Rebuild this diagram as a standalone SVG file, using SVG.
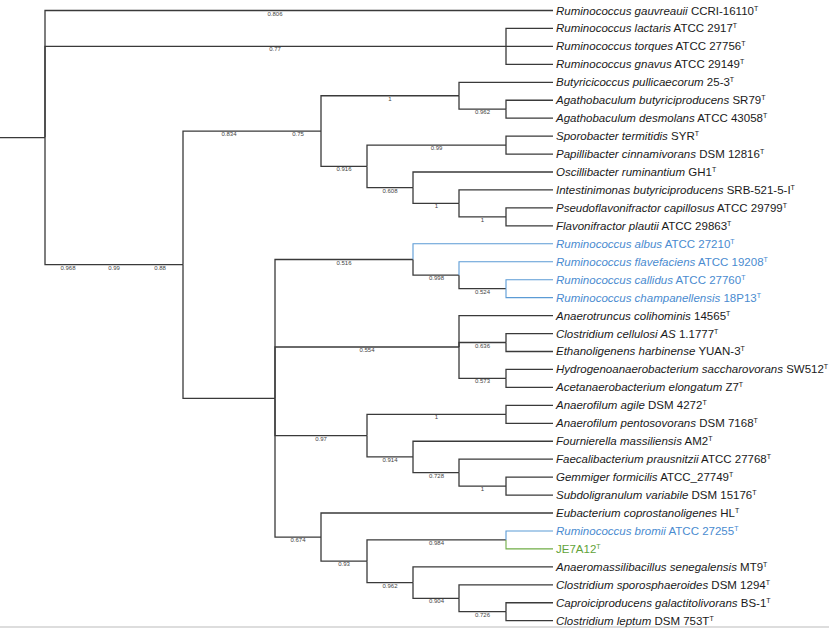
<svg xmlns="http://www.w3.org/2000/svg" width="829" height="628" viewBox="0 0 829 628">
<style>
.br{fill:none;stroke:#3a3a3a;stroke-width:1.3}
.bl{fill:none;stroke:#5b9bd5;stroke-width:1.1}
.gr{fill:none;stroke:#70ad47;stroke-width:1.1}
.sup{font-family:"Liberation Sans",Arial,sans-serif;font-size:6px;fill:#444;text-anchor:middle}
.lf{font-family:"Liberation Sans",Arial,sans-serif;font-size:11.5px;fill:#1a1a1a}
.lf.blue{fill:#4a8bd0}
.lf.green{fill:#62a33a}
.i{font-style:italic}
.t{font-size:7px}
</style>
<rect x="0" y="0" width="829" height="628" fill="#ffffff"/>
<line x1="0" y1="627" x2="829" y2="627" stroke="#dddddd" stroke-width="2"/>
<g id="connectors">
<path class="br" d="M0,137.6H45"/>
<path class="br" d="M45,137.6V10.5H553"/>
<path class="br" d="M45,137.6V46.4H506"/>
<path class="br" d="M45,137.6V264.7H183"/>
<path class="br" d="M506,46.4V28.45H553"/>
<path class="br" d="M506,46.4H553"/>
<path class="br" d="M506,46.4V64.34H553"/>
<path class="br" d="M183,264.7V131.1H321"/>
<path class="br" d="M183,264.7V398.3H275"/>
<path class="br" d="M321,131.1V95.75H459"/>
<path class="br" d="M321,131.1V166.4H367"/>
<path class="br" d="M459,95.75V82.29H553"/>
<path class="br" d="M459,95.75V109.2H506"/>
<path class="br" d="M506,109.2V100.24H553"/>
<path class="br" d="M506,109.2V118.18H553"/>
<path class="br" d="M367,166.4V145.1H506"/>
<path class="br" d="M367,166.4V187.7H413"/>
<path class="br" d="M506,145.1V136.13H553"/>
<path class="br" d="M506,145.1V154.08H553"/>
<path class="br" d="M413,187.7V172.02H553"/>
<path class="br" d="M413,187.7V203.4H459"/>
<path class="br" d="M459,203.4V189.97H553"/>
<path class="br" d="M459,203.4V216.9H506"/>
<path class="br" d="M506,216.9V207.92H553"/>
<path class="br" d="M506,216.9V225.86H553"/>
<path class="br" d="M275,398.3V259.5H413"/>
<path class="br" d="M275,398.3V347H459"/>
<path class="br" d="M275,398.3V435.6H367"/>
<path class="br" d="M275,398.3V537.1H321"/>
<path class="bl" d="M413,259.5V243.81H553"/>
<path class="br" d="M413,259.5V275.2H459"/>
<path class="bl" d="M459,275.2V261.76H553"/>
<path class="br" d="M459,275.2V288.68H506"/>
<path class="bl" d="M506,288.68V279.71H553"/>
<path class="bl" d="M506,288.68V297.65H553"/>
<path class="br" d="M459,347V315.6H553"/>
<path class="br" d="M459,347V342.5H506"/>
<path class="br" d="M459,347V378.4H506"/>
<path class="br" d="M506,342.5V333.55H553"/>
<path class="br" d="M506,342.5V351.49H553"/>
<path class="br" d="M506,378.4V369.44H553"/>
<path class="br" d="M506,378.4V387.39H553"/>
<path class="br" d="M367,435.6V414.3H506"/>
<path class="br" d="M367,435.6V456.9H413"/>
<path class="br" d="M506,414.3V405.33H553"/>
<path class="br" d="M506,414.3V423.28H553"/>
<path class="br" d="M413,456.9V441.23H553"/>
<path class="br" d="M413,456.9V472.6H459"/>
<path class="br" d="M459,472.6V459.18H553"/>
<path class="br" d="M459,472.6V486.1H506"/>
<path class="br" d="M506,486.1V477.12H553"/>
<path class="br" d="M506,486.1V495.07H553"/>
<path class="br" d="M321,537.1V513.02H553"/>
<path class="br" d="M321,537.1V561.2H367"/>
<path class="br" d="M367,561.2V539.9H506"/>
<path class="br" d="M367,561.2V582.6H413"/>
<path class="bl" d="M506,539.9V530.96H553"/>
<path class="gr" d="M506,539.9V548.91H553"/>
<path class="br" d="M413,582.6V566.86H553"/>
<path class="br" d="M413,582.6V598.3H459"/>
<path class="br" d="M459,598.3V584.8H553"/>
<path class="br" d="M459,598.3V611.7H506"/>
<path class="br" d="M506,611.7V602.75H553"/>
<path class="br" d="M506,611.7V620.7H553"/>
</g>
<g id="support-values">
<text class="sup" x="275" y="15.5">0.806</text>
<text class="sup" x="275" y="51.4">0.77</text>
<text class="sup" x="68" y="269.7">0.968</text>
<text class="sup" x="114" y="269.7">0.99</text>
<text class="sup" x="160" y="269.7">0.88</text>
<text class="sup" x="229" y="136.1">0.834</text>
<text class="sup" x="298" y="136.1">0.75</text>
<text class="sup" x="390" y="100.75">1</text>
<text class="sup" x="482.5" y="114.2">0.962</text>
<text class="sup" x="436.5" y="150.1">0.99</text>
<text class="sup" x="344" y="171.4">0.916</text>
<text class="sup" x="390" y="192.7">0.608</text>
<text class="sup" x="436.5" y="208.4">1</text>
<text class="sup" x="482.5" y="221.9">1</text>
<text class="sup" x="344" y="264.5">0.516</text>
<text class="sup" x="436.5" y="280.2">0.998</text>
<text class="sup" x="482.5" y="293.7">0.524</text>
<text class="sup" x="367" y="352">0.554</text>
<text class="sup" x="482.5" y="347.5">0.636</text>
<text class="sup" x="482.5" y="383.4">0.573</text>
<text class="sup" x="321" y="440.6">0.97</text>
<text class="sup" x="436.5" y="419.3">1</text>
<text class="sup" x="390" y="461.9">0.914</text>
<text class="sup" x="436.5" y="477.6">0.728</text>
<text class="sup" x="482.5" y="491.1">1</text>
<text class="sup" x="298" y="542.1">0.674</text>
<text class="sup" x="344" y="566.2">0.93</text>
<text class="sup" x="436.5" y="544.9">0.984</text>
<text class="sup" x="390" y="587.6">0.962</text>
<text class="sup" x="436.5" y="603.3">0.904</text>
<text class="sup" x="482.5" y="616.7">0.726</text>
</g>
<g id="leaf-gauvreauii"><text class="lf" x="556" y="14.5"><tspan class="i">Ruminococcus gauvreauii</tspan> CCRI-16110<tspan class="t" dy="-4">T</tspan></text></g>
<g id="leaf-lactaris"><text class="lf" x="556" y="32.45"><tspan class="i">Ruminococcus lactaris</tspan> ATCC 2917<tspan class="t" dy="-4">T</tspan></text></g>
<g id="leaf-torques"><text class="lf" x="556" y="50.4"><tspan class="i">Ruminococcus torques</tspan> ATCC 27756<tspan class="t" dy="-4">T</tspan></text></g>
<g id="leaf-gnavus"><text class="lf" x="556" y="68.34"><tspan class="i">Ruminococcus gnavus</tspan> ATCC 29149<tspan class="t" dy="-4">T</tspan></text></g>
<g id="leaf-butyricicoccus"><text class="lf" x="556" y="86.29"><tspan class="i">Butyricicoccus pullicaecorum</tspan> 25-3<tspan class="t" dy="-4">T</tspan></text></g>
<g id="leaf-agatho-butyr"><text class="lf" x="556" y="104.24"><tspan class="i">Agathobaculum butyriciproducens</tspan> SR79<tspan class="t" dy="-4">T</tspan></text></g>
<g id="leaf-agatho-desm"><text class="lf" x="556" y="122.18"><tspan class="i">Agathobaculum desmolans</tspan> ATCC 43058<tspan class="t" dy="-4">T</tspan></text></g>
<g id="leaf-sporobacter"><text class="lf" x="556" y="140.13"><tspan class="i">Sporobacter termitidis</tspan> SYR<tspan class="t" dy="-4">T</tspan></text></g>
<g id="leaf-papillibacter"><text class="lf" x="556" y="158.08"><tspan class="i">Papillibacter cinnamivorans</tspan> DSM 12816<tspan class="t" dy="-4">T</tspan></text></g>
<g id="leaf-oscillibacter"><text class="lf" x="556" y="176.02"><tspan class="i">Oscillibacter ruminantium</tspan> GH1<tspan class="t" dy="-4">T</tspan></text></g>
<g id="leaf-intestinimonas"><text class="lf" x="556" y="193.97"><tspan class="i">Intestinimonas butyriciproducens</tspan> SRB-521-5-I<tspan class="t" dy="-4">T</tspan></text></g>
<g id="leaf-pseudoflavonifractor"><text class="lf" x="556" y="211.92"><tspan class="i">Pseudoflavonifractor capillosus</tspan> ATCC 29799<tspan class="t" dy="-4">T</tspan></text></g>
<g id="leaf-flavonifractor"><text class="lf" x="556" y="229.86"><tspan class="i">Flavonifractor plautii</tspan> ATCC 29863<tspan class="t" dy="-4">T</tspan></text></g>
<g id="leaf-albus"><text class="lf blue" x="556" y="247.81"><tspan class="i">Ruminococcus albus</tspan> ATCC 27210<tspan class="t" dy="-4">T</tspan></text></g>
<g id="leaf-flavefaciens"><text class="lf blue" x="556" y="265.76"><tspan class="i">Ruminococcus flavefaciens</tspan> ATCC 19208<tspan class="t" dy="-4">T</tspan></text></g>
<g id="leaf-callidus"><text class="lf blue" x="556" y="283.71"><tspan class="i">Ruminococcus callidus</tspan> ATCC 27760<tspan class="t" dy="-4">T</tspan></text></g>
<g id="leaf-champanellensis"><text class="lf blue" x="556" y="301.65"><tspan class="i">Ruminococcus champanellensis</tspan> 18P13<tspan class="t" dy="-4">T</tspan></text></g>
<g id="leaf-anaerotruncus"><text class="lf" x="556" y="319.6"><tspan class="i">Anaerotruncus colihominis</tspan> 14565<tspan class="t" dy="-4">T</tspan></text></g>
<g id="leaf-cellulosi"><text class="lf" x="556" y="337.55"><tspan class="i">Clostridium cellulosi AS</tspan> 1.1777<tspan class="t" dy="-4">T</tspan></text></g>
<g id="leaf-ethanoligenens"><text class="lf" x="556" y="355.49"><tspan class="i">Ethanoligenens harbinense</tspan> YUAN-3<tspan class="t" dy="-4">T</tspan></text></g>
<g id="leaf-hydrogeno"><text class="lf" x="556" y="373.44"><tspan class="i">Hydrogenoanaerobacterium saccharovorans</tspan> SW512<tspan class="t" dy="-4">T</tspan></text></g>
<g id="leaf-acetanaero"><text class="lf" x="556" y="391.39"><tspan class="i">Acetanaerobacterium elongatum</tspan> Z7<tspan class="t" dy="-4">T</tspan></text></g>
<g id="leaf-anaerofilum-agile"><text class="lf" x="556" y="409.33"><tspan class="i">Anaerofilum agile</tspan> DSM 4272<tspan class="t" dy="-4">T</tspan></text></g>
<g id="leaf-anaerofilum-pent"><text class="lf" x="556" y="427.28"><tspan class="i">Anaerofilum pentosovorans</tspan> DSM 7168<tspan class="t" dy="-4">T</tspan></text></g>
<g id="leaf-fournierella"><text class="lf" x="556" y="445.23"><tspan class="i">Fournierella massiliensis</tspan> AM2<tspan class="t" dy="-4">T</tspan></text></g>
<g id="leaf-faecalibacterium"><text class="lf" x="556" y="463.18"><tspan class="i">Faecalibacterium prausnitzii</tspan> ATCC 27768<tspan class="t" dy="-4">T</tspan></text></g>
<g id="leaf-gemmiger"><text class="lf" x="556" y="481.12"><tspan class="i">Gemmiger formicilis</tspan> ATCC_27749<tspan class="t" dy="-4">T</tspan></text></g>
<g id="leaf-subdoligranulum"><text class="lf" x="556" y="499.07"><tspan class="i">Subdoligranulum variabile</tspan> DSM 15176<tspan class="t" dy="-4">T</tspan></text></g>
<g id="leaf-eubacterium"><text class="lf" x="556" y="517.02"><tspan class="i">Eubacterium coprostanoligenes</tspan> HL<tspan class="t" dy="-4">T</tspan></text></g>
<g id="leaf-bromii"><text class="lf blue" x="556" y="534.96"><tspan class="i">Ruminococcus bromii</tspan> ATCC 27255<tspan class="t" dy="-4">T</tspan></text></g>
<g id="leaf-JE7A12"><text class="lf green" x="556" y="552.91">JE7A12<tspan class="t" dy="-4">T</tspan></text></g>
<g id="leaf-anaeromassili"><text class="lf" x="556" y="570.86"><tspan class="i">Anaeromassilibacillus senegalensis</tspan> MT9<tspan class="t" dy="-4">T</tspan></text></g>
<g id="leaf-sporosphaeroides"><text class="lf" x="556" y="588.8"><tspan class="i">Clostridium sporosphaeroides</tspan> DSM 1294<tspan class="t" dy="-4">T</tspan></text></g>
<g id="leaf-caproiciproducens"><text class="lf" x="556" y="606.75"><tspan class="i">Caproiciproducens galactitolivorans</tspan> BS-1<tspan class="t" dy="-4">T</tspan></text></g>
<g id="leaf-leptum"><text class="lf" x="556" y="624.7"><tspan class="i">Clostridium leptum</tspan> DSM 753T<tspan class="t" dy="-4">T</tspan></text></g>
</svg>
